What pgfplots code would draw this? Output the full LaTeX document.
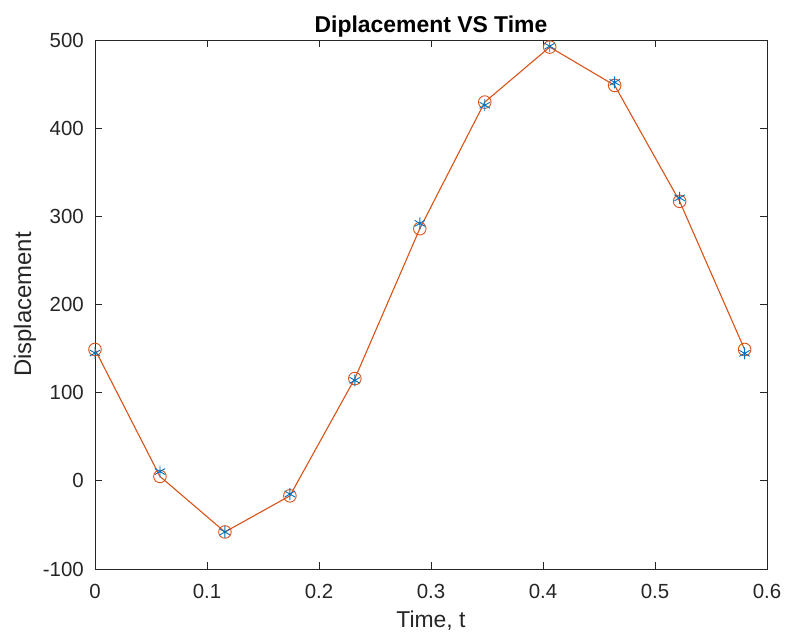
\documentclass[border=0pt]{standalone}
\usepackage{fontspec}
\setmainfont{Liberation Sans}
\usepackage{pgfplots}
\pgfplotsset{compat=1.18}
\definecolor{mblue}{rgb}{0,0.447,0.741}
\definecolor{morange}{rgb}{0.85,0.325,0.098}
\definecolor{axgray}{rgb}{0.15,0.15,0.15}
\begin{document}
\begin{tikzpicture}
\begin{axis}[
  name=ax,
  scale only axis,
  width=672bp, height=529bp,
  xmin=0, xmax=0.6, ymin=-100, ymax=500,
  xtick={0,0.1,0.2,0.3,0.4,0.5,0.6},
  ytick={-100,0,100,200,300,400,500},
  xticklabels={0,0.1,0.2,0.3,0.4,0.5,0.6},
  tick align=inside,
  major tick length=7bp,
  tick style={axgray, line width=0.8bp},
  axis line style={axgray, line width=0.9bp},
  /pgf/number format/assume math mode=true,
  tick label style={font=\fontsize{20.5}{24}\selectfont, text=axgray, inner sep=0pt},
  yticklabel style={anchor=east, xshift=-11bp},
  xticklabel style={anchor=north, yshift=-15bp},
  title={\textbf{Diplacement VS Time}},
  title style={font=\fontsize{23}{27}\selectfont, anchor=base, at={(axis description cs:0.5,1)}, yshift=2bp, inner sep=0pt},
  xlabel={Time, t},
  xlabel style={font=\fontsize{23}{27}\selectfont, text=axgray, anchor=base, at={(axis description cs:0.5,0)}, yshift=-58bp, inner sep=0pt},
  ylabel={Displacement},
  ylabel style={font=\fontsize{24}{28}\selectfont, text=axgray, anchor=center, at={([xshift=-70bp]axis description cs:0,0.5)}, inner sep=0pt},
]
\addplot[color=morange, line width=1.1bp, mark=o, mark size=6.3bp, mark options={line width=0.9bp}] coordinates {
(0,149) (0.058,5) (0.116,-58) (0.174,-17) (0.232,116) (0.29,286) (0.348,429.6) (0.406,492) (0.464,448.5) (0.522,317) (0.58,149)
};
\addplot[color=mblue, only marks, mark=asterisk, mark size=6bp, mark options={line width=0.9bp}] coordinates {
(0,145) (0.058,10.5) (0.116,-58) (0.174,-15) (0.232,114) (0.29,292) (0.348,426) (0.406,493) (0.464,452) (0.522,321) (0.58,144.6)
};
\end{axis}
\pgfresetboundingbox
\path[use as bounding box] (ax.south west) ++(-95bp,-63bp) rectangle ++(787bp,632bp);
\end{tikzpicture}
\end{document}
